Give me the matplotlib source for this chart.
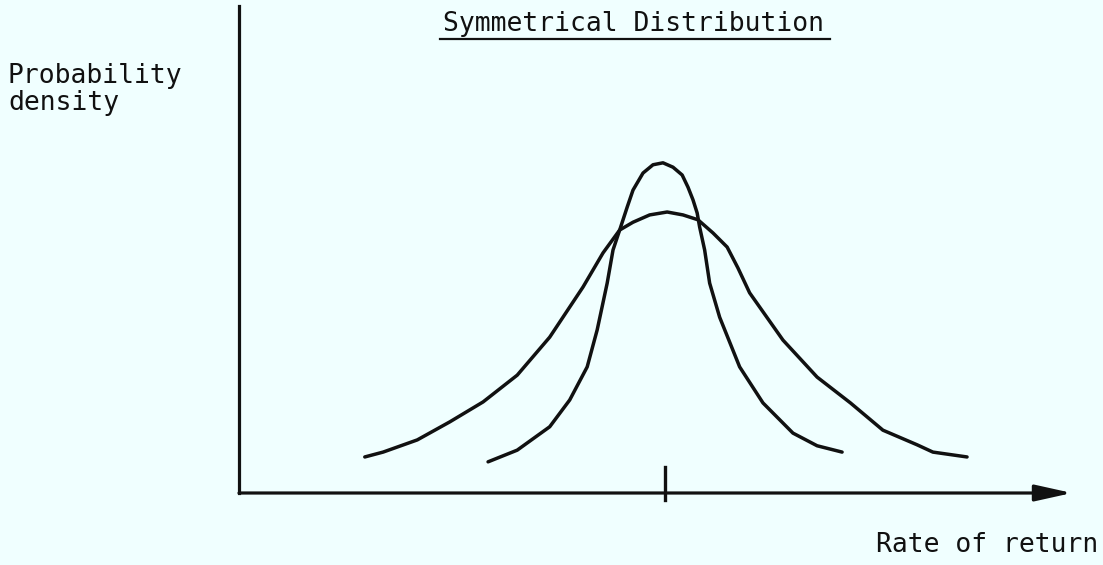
import numpy as np
import matplotlib
matplotlib.use("Agg")
import matplotlib.pyplot as plt
from matplotlib.lines import Line2D

# ----------------------------
# data (x: 0..100 along the axis, y: 0..100 up the axis)
# ----------------------------
wide_x = [15.1, 17.3, 21.4, 25.3, 29.3, 33.4, 37.3, 41.3, 43.7, 45.7, 47.3, 49.3,
          51.4, 53.3, 55.1, 56.9, 58.6, 59.9, 61.3, 65.3, 69.4, 73.4, 77.3, 81.4,
          83.3, 87.4]
wide_y = [7.4, 8.4, 10.9, 14.6, 18.7, 24.2, 32.0, 42.3, 49.3, 54.0, 55.6, 57.1,
          57.7, 57.1, 56.1, 53.4, 50.5, 46.2, 41.1, 31.4, 23.8, 18.5, 12.9, 9.9,
          8.4, 7.4]

narrow_x = [29.9, 33.4, 37.3, 39.7, 41.8, 43.0, 44.2, 44.9, 45.7, 46.6, 47.3, 48.5,
            49.7, 50.9, 52.1, 53.2, 53.9, 54.5, 55.0, 55.3, 55.9, 56.5, 57.7, 60.1,
            62.9, 66.5, 69.4, 72.4]
narrow_y = [6.4, 8.8, 13.6, 19.1, 25.9, 33.5, 43.1, 49.9, 54.0, 58.7, 62.2, 65.7,
            67.4, 67.8, 66.9, 65.3, 62.8, 60.2, 57.5, 54.6, 49.9, 43.1, 36.1, 25.9,
            18.5, 12.3, 9.7, 8.4]

mean_x = 51.1

title = "Symmetrical Distribution"
ylabel_lines = ["Probability", "density"]
xlabel = "Rate of return"

BG = "#f0ffff"
INK = "#111111"
W, H = 1103, 565
MONO = "DejaVu Sans Mono"


def fx(px):
    return px / W


def fy(py):
    return (H - py) / H


def main():
    fig = plt.figure(figsize=(W / 100, H / 100), dpi=100, facecolor=BG)
    ax = fig.add_axes([fx(239), fy(493), fx(1072) - fx(239), fy(6) - fy(493)])
    ax.set_facecolor(BG)
    ax.set_xlim(0, 100)
    ax.set_ylim(0, 100)

    for s in ["top", "right", "bottom"]:
        ax.spines[s].set_visible(False)
    ax.spines["left"].set_linewidth(2.3)
    ax.spines["left"].set_color(INK)
    ax.set_xticks([])
    ax.set_yticks([])

    # x axis with arrow
    ax.annotate("", xy=(1.0, 0), xytext=(0, 0), xycoords="axes fraction",
                arrowprops=dict(arrowstyle="-|>,head_length=0.9,head_width=0.2",
                                lw=2.3, color=INK, mutation_scale=25,
                                shrinkA=0, shrinkB=0),
                annotation_clip=False)

    # curves
    for xs, ys in [(wide_x, wide_y), (narrow_x, narrow_y)]:
        ax.plot(xs, ys, color=INK, lw=2.5, solid_joinstyle="round",
                solid_capstyle="round")

    # tick at the mean
    trans = ax.get_xaxis_transform()
    ax.plot([mean_x, mean_x], [-0.014, 0.053], transform=trans, color=INK,
            lw=2.4, clip_on=False)

    # texts
    fs = 19
    fig.text(fx(443), fy(31), title, fontsize=fs, family=MONO, color=INK,
             va="baseline", ha="left")
    fig.add_artist(Line2D([fx(440), fx(830)], [fy(39), fy(39)], color=INK,
                          lw=1.6))
    fig.text(fx(8), fy(83), ylabel_lines[0], fontsize=fs, family=MONO,
             color=INK, va="baseline", ha="left")
    fig.text(fx(8), fy(110), ylabel_lines[1], fontsize=fs, family=MONO,
             color=INK, va="baseline", ha="left")
    fig.text(fx(1098), fy(552), xlabel, fontsize=fs, family=MONO, color=INK,
             va="baseline", ha="right")

    fig.savefig("out.png", dpi=100, facecolor=BG)


if __name__ == "__main__":
    main()
